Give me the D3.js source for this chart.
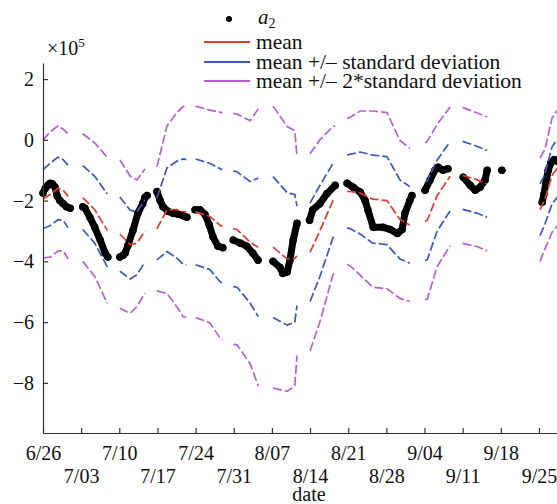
<!DOCTYPE html>
<html><head><meta charset="utf-8">
<script src="https://cdn.jsdelivr.net/npm/d3@7"></script>
<style>body{margin:0;background:#fff}svg{display:block}svg text{font-family:"Liberation Serif","DejaVu Serif",serif !important}</style>
</head><body>
<svg id="c" width="557" height="504"></svg>
<script>
// ---- data (days since 6/26; null = gap) ----
const xTickLabels = ["6/26","7/03","7/10","7/17","7/24","7/31","8/07","8/14","8/21","8/28","9/04","9/11","9/18","9/25"];
const yTickValues = [2,0,-2,-4,-6,-8];

const bandDays = [0,1.3,2.75,3.7,4.6,null,
  7.3,9.5,11.8,null,
  14.1,16.0,17.25,18.7,null,
  20.9,22.75,24.6,25.7,26.3,null,
  28.0,30.6,32.5,32.9,null,
  34.9,35.6,38.0,39.5,null,
  42.2,44.8,46.2,46.6,null,
  49.0,50.8,53.2,53.6,null,
  55.8,56.3,58.2,60.5,63.1,65.5,67.3,null,
  70.1,70.5,72.3,74.7,null,
  77.0,79.6,81.5,null,
  91.2,92.1,93.4,94.3,95.5];
const meanVals = [-1.95,-1.8,-1.6,-1.65,-1.86,null,
  -1.9,-2.3,-2.98,null,
  -3.1,-3.45,-3.4,-3.0,null,
  -2.93,-2.3,-2.3,-2.36,-2.38,null,
  -2.37,-2.52,-2.81,-2.85,null,
  -2.93,-2.95,-3.37,-3.54,null,
  -3.53,-3.92,-3.9,-3.82,null,
  -3.7,-3.0,-2.0,-1.95,null,
  -1.7,-1.7,-1.75,-1.95,-2.0,-2.62,-2.8,null,
  -2.68,-2.65,-1.84,-1.2,null,
  -1.17,-1.31,-1.45,null,
  -2.3,-1.95,-1.17,-0.95,-0.9];
const sdVals = [0.97,1.03,1.03,1.0,1.03,null,
  1.05,1.1,1.2,null,
  1.22,1.13,1.04,1.02,null,
  1.02,1.38,1.6,1.73,1.73,null,
  1.74,1.75,1.86,1.87,null,
  1.9,1.9,2.0,2.28,null,
  2.32,2.18,2.1,1.64,null,
  1.62,1.5,1.22,1.2,null,
  1.2,1.22,1.35,1.45,1.45,1.3,1.26,null,
  1.29,1.3,1.17,1.14,null,
  1.12,1.1,1.1,null,
  0.85,0.82,0.94,0.95,0.95];

const a2Days = [0,0.4,0.9,1.3,1.7,2.2,2.6,3.1,3.7,4.3,5.0,null,
  7.3,7.7,8.6,9.5,10.5,11.4,11.9,null,
  14.1,14.7,15.1,15.6,16.5,17.4,18.3,18.7,19.1,null,
  20.9,21.5,22.0,22.9,23.9,24.8,25.7,26.4,null,
  27.9,28.8,29.7,30.5,31.2,32.1,33.0,null,
  34.9,36.2,37.4,38.5,39.45,null,
  42.2,43.5,44.0,44.8,45.3,45.9,46.6,null,
  48.9,49.5,50.8,52.1,53.6,null,
  55.8,56.9,58.2,59.1,59.6,60.6,62.4,63.7,65.0,65.9,66.4,67.3,67.7,null,
  70.1,71.0,71.9,72.5,73.4,74.3,null,
  77.1,78.4,79.3,80.2,81.1,81.5,null,
  84.2,null,
  91.6,91.9,92.3,92.7,93.2,93.8,94.3,95.2];
const a2Vals = [-1.75,-1.6,-1.5,-1.43,-1.45,-1.55,-1.85,-2.0,-2.1,-2.2,-2.25,null,
  -2.2,-2.25,-2.55,-2.88,-3.3,-3.73,-3.86,null,
  -3.86,-3.8,-3.72,-3.47,-2.98,-2.42,-2.1,-1.9,-1.83,null,
  -1.7,-2.0,-2.2,-2.35,-2.42,-2.45,-2.5,-2.55,null,
  -2.3,-2.3,-2.45,-2.8,-3.2,-3.5,-3.55,null,
  -3.3,-3.4,-3.5,-3.73,-3.96,null,
  -4.0,-4.2,-4.4,-4.35,-3.96,-3.3,-2.75,null,
  -2.65,-2.3,-2.1,-1.77,-1.5,null,
  -1.43,-1.56,-1.72,-2.0,-2.3,-2.88,-2.88,-2.95,-3.08,-2.95,-2.42,-2.0,-1.83,null,
  -1.66,-1.33,-1.0,-0.9,-1.0,-0.95,null,
  -1.23,-1.5,-1.66,-1.56,-1.33,-1.0,null,
  -1.0,null,
  -2.05,-1.8,-1.4,-1.0,-0.75,-0.65,-0.7,-0.7];

// ---- setup ----
const FONT = "Liberation Serif, DejaVu Serif, serif";
const COL = {mean:"#e23b2e", sd1:"#3a58b8", sd2:"#b85fd0"};
const base = Date.UTC(2013,5,26);
const toDate = d => new Date(base + d*864e5);
const svg = d3.select("#c");
const x = d3.scaleUtc().domain([toDate(0), toDate(105)]).range([43, 43+105*5.45]);
const y = d3.scaleLinear().domain([-9.65, 2.53]).range([433, 63]);

// black a2 points
const a2 = a2Days.map((d,i)=> d===null ? null : {d, v:a2Vals[i]});
const lineA2 = d3.line().defined(p=>p!==null).x(p=>x(toDate(p.d))).y(p=>y(p.v));
svg.append("path").attr("d", lineA2(a2)).attr("fill","none").attr("stroke","#000")
  .attr("stroke-width",7).attr("stroke-linecap","round").attr("stroke-linejoin","round");
svg.append("g").selectAll("circle").data(a2.filter(p=>p!==null)).join("circle")
  .attr("cx",p=>x(toDate(p.d))).attr("cy",p=>y(p.v)).attr("r",3.8).attr("fill","#000");

// bands
const band = bandDays.map((d,i)=> d===null ? null : {d, m:meanVals[i], s:sdVals[i]});
function drawBand(k, color){
  const ln = d3.line().defined(p=>p!==null).x(p=>x(toDate(p.d))).y(p=>y(p.m + k*p.s));
  svg.append("path").attr("d", ln(band)).attr("fill","none").attr("stroke",color)
    .attr("stroke-width",1.7).attr("stroke-dasharray","9,3");
}
drawBand(2, COL.sd2); drawBand(-2, COL.sd2);
drawBand(1, COL.sd1); drawBand(-1, COL.sd1);
drawBand(0, COL.mean);

// axes
const xAxis = d3.axisBottom(x).tickValues(xTickLabels.map((_,i)=>toDate(7*i)))
  .tickSize(-5).tickSizeOuter(0).tickFormat((d,i)=>xTickLabels[i]);
const gx = svg.append("g").attr("transform","translate(0,433)").call(xAxis);
gx.attr("font-family",FONT).attr("font-size",20);
gx.selectAll("text").attr("dy",null).attr("y",(d,i)=> i%2===0 ? 27 : 50).attr("fill","#111");
const yAxis = d3.axisLeft(y).tickValues(yTickValues).tickSize(-5).tickSizeOuter(0).tickPadding(9)
  .tickFormat(d => d<0 ? "\u2212"+Math.abs(d) : String(d));
const gy = svg.append("g").attr("transform","translate(43,0)").call(yAxis);
gy.attr("font-family",FONT).attr("font-size",20);
gy.selectAll("text").attr("fill","#111");
[gx,gy].forEach(g=>{g.selectAll("path,line").attr("stroke","#333").attr("stroke-width",1.2);});

// multiplier
const mul = svg.append("text").attr("x",47).attr("y",55).attr("font-family",FONT).attr("font-size",20).attr("fill","#111");
mul.append("tspan").text("\u00d710");
mul.append("tspan").attr("font-size",13).attr("dy",-8).text("5");

// x label
svg.append("text").attr("x",309).attr("y",501).attr("text-anchor","middle")
  .attr("font-family",FONT).attr("font-size",20).attr("fill","#111").text("date");

// legend
svg.append("circle").attr("cx",229).attr("cy",19).attr("r",3).attr("fill","#000");
const la = svg.append("text").attr("x",258).attr("y",24).attr("font-family",FONT).attr("font-size",21).attr("fill","#111");
la.append("tspan").attr("font-style","italic").text("a");
la.append("tspan").attr("font-size",14).attr("dy",4).text("2");
const legendItems = [
  {label:"mean", color:COL.mean, y:42},
  {label:"mean +/\u2013 standard deviation", color:COL.sd1, y:62},
  {label:"mean +/\u2013 2*standard deviation", color:COL.sd2, y:81}
];
legendItems.forEach(it=>{
  svg.append("line").attr("x1",204).attr("x2",250).attr("y1",it.y).attr("y2",it.y)
    .attr("stroke",it.color).attr("stroke-width",2);
  svg.append("text").attr("x",256).attr("y",it.y).attr("dy","0.32em")
    .attr("font-family",FONT).attr("font-size",21.5).attr("fill","#111").text(it.label);
});
</script>
</body></html>
